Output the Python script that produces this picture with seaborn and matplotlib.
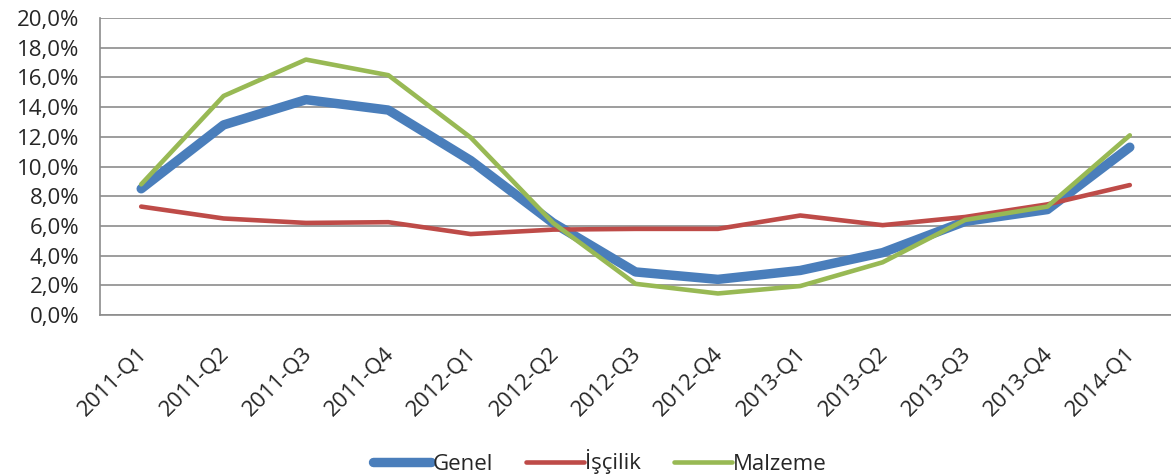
import numpy as np
import pandas as pd
import matplotlib
matplotlib.use("Agg")
import matplotlib.pyplot as plt
from matplotlib.ticker import FuncFormatter, FixedLocator
from matplotlib.transforms import ScaledTranslation
import seaborn as sns

# ===========================
# Data
# ===========================
quarters = ["2011-Q1", "2011-Q2", "2011-Q3", "2011-Q4", "2012-Q1", "2012-Q2",
            "2012-Q3", "2012-Q4", "2013-Q1", "2013-Q2", "2013-Q3", "2013-Q4", "2014-Q1"]
genel = [8.5, 12.8, 14.5, 13.8, 10.4, 6.2, 2.9, 2.4, 3.0, 4.2, 6.3, 7.1, 11.3]
iscilik = [7.3, 6.5, 6.2, 6.25, 5.45, 5.75, 5.8, 5.8, 6.7, 6.05, 6.6, 7.45, 8.75]
malzeme = [8.8, 14.75, 17.2, 16.15, 11.95, 6.2, 2.1, 1.45, 1.95, 3.55, 6.4, 7.3, 12.1]

series_names = ["Genel", "İşçilik", "Malzeme"]
colors = {"Genel": "#4A7EBB", "İşçilik": "#BE4B48", "Malzeme": "#98B954"}
widths = {"Genel": 6.8, "İşçilik": 3.3, "Malzeme": 3.3}

df = pd.DataFrame({
    "x": list(range(len(quarters))) * 3,
    "value": genel + iscilik + malzeme,
    "series": [s for s in series_names for _ in quarters],
})

sns.set_style("white")
plt.rcParams["font.family"] = ["Open Sans", "DejaVu Sans"]
FS = 16

fig = plt.figure(figsize=(11.71, 4.75), dpi=100)
ax = fig.add_axes([100 / 1171, 1 - 315 / 475, 1 - 100 / 1171, (315 - 18) / 475])

for name in series_names:
    sub = df[df["series"] == name]
    sns.lineplot(data=sub, x="x", y="value", ax=ax, color=colors[name],
                 linewidth=widths[name], label=name, solid_capstyle="round",
                 solid_joinstyle="round")

ax.set_xlim(-0.5, len(quarters) - 0.5)
ax.set_ylim(0, 20)
ax.set_yticks(np.arange(0, 21, 2))
ax.yaxis.set_major_formatter(FuncFormatter(lambda v, p: f"{v:.1f}%".replace(".", ",")))
ax.grid(axis="y", color="#8C8C8C", linewidth=1.2)
ax.set_axisbelow(True)

ax.set_xticks(range(len(quarters)))
ax.set_xticklabels(quarters, rotation=45, ha="right", rotation_mode="anchor")
ax.xaxis.set_minor_locator(FixedLocator(np.arange(-0.5, len(quarters), 1)))
ax.tick_params(axis="x", which="major", length=0, pad=20, labelsize=FS)
ax.tick_params(axis="x", which="minor", length=6, color="#8C8C8C", width=1.2)
ax.tick_params(axis="y", length=7, color="#8C8C8C", width=1.2, labelsize=FS, pad=8)
shift = ScaledTranslation(-5 / 100, 0, fig.dpi_scale_trans)
for lbl in ax.get_xticklabels():
    lbl.set_transform(lbl.get_transform() + shift)
ax.set_xlabel("")
ax.set_ylabel("")

for side in ["top", "right"]:
    ax.spines[side].set_visible(False)
for side in ["left", "bottom"]:
    ax.spines[side].set_color("#8C8C8C")
    ax.spines[side].set_linewidth(1.2)

ax.get_legend().remove()
handles, labels = ax.get_legend_handles_labels()
fig.legend(handles, labels, loc="center", bbox_to_anchor=(600 / 1171, 13 / 475),
           ncol=3, frameon=False, fontsize=FS, handlelength=2.6, handletextpad=0.05,
           columnspacing=1.5, borderaxespad=0, borderpad=0)

fig.savefig("out.png", dpi=100)
